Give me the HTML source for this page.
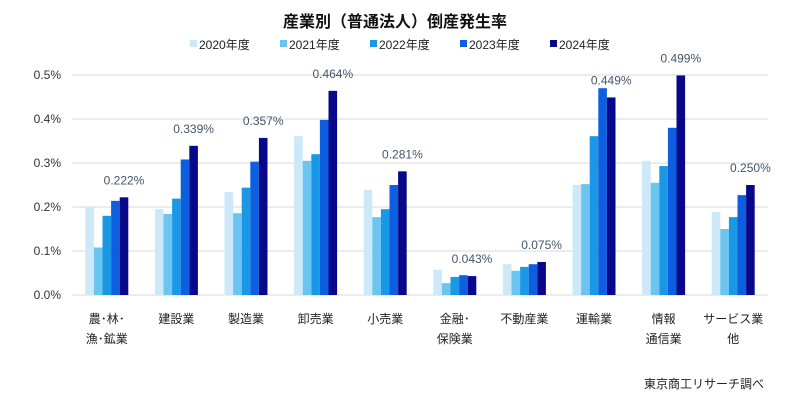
<!DOCTYPE html>
<html><head><meta charset="utf-8"><style>
body{margin:0;background:#fff;}
svg{display:block;font-family:"Liberation Sans","Noto Sans CJK JP",sans-serif;}
</style></head><body>
<svg id="c" width="788" height="403" viewBox="0 0 788 403">
<text x="395" y="27" text-anchor="middle" font-size="16" font-weight="bold" fill="#111" font-family="'Liberation Sans','Noto Sans CJK JP',sans-serif">産業別（普通法人）倒産発生率</text>
<g id="legend"></g>
<g id="grid"></g>
<g id="bars"></g>
<g id="xl"></g>
<text x="764" y="388" text-anchor="end" font-size="12" fill="#222">東京商工リサーチ調べ</text>
</svg>
<script>
const categories=[["農･林･","漁･鉱業"],["建設業"],["製造業"],["卸売業"],["小売業"],["金融･","保険業"],["不動産業"],["運輸業"],["情報","通信業"],["サービス業","他"]];
const years=["2020年度","2021年度","2022年度","2023年度","2024年度"];
const s2020=[0.200,0.195,0.234,0.361,0.239,0.057,0.070,0.250,0.305,0.189];
const s2021=[0.108,0.184,0.186,0.305,0.177,0.027,0.055,0.252,0.255,0.150];
const s2022=[0.180,0.219,0.244,0.320,0.195,0.041,0.064,0.361,0.293,0.177];
const s2023=[0.214,0.308,0.303,0.398,0.250,0.045,0.070,0.470,0.380,0.227];
const s2024=[0.222,0.339,0.357,0.464,0.281,0.043,0.075,0.449,0.499,0.250];
const labels2024=["0.222%","0.339%","0.357%","0.464%","0.281%","0.043%","0.075%","0.449%","0.499%","0.250%"];
const yTicks=[0,0.1,0.2,0.3,0.4,0.5];
const yTickLabels=["0.0%","0.1%","0.2%","0.3%","0.4%","0.5%"];
const series=[s2020,s2021,s2022,s2023,s2024];
const colors=["#cde8f8","#6cc4f0","#1a98e6","#0d5fe0","#08088a"];
const NS="http://www.w3.org/2000/svg";
const x0=72,x1=768,yb=295,yt=75,ymax=0.5;
const y=v=>yb-(v/ymax)*(yb-yt);
const band=(x1-x0)/categories.length;
const cx=i=>x0+band*(i+0.5);
const bw=8.6;
function mk(t,a,p){const e=document.createElementNS(NS,t);for(const k in a)e.setAttribute(k,a[k]);p.appendChild(e);return e;}
const grid=document.getElementById('grid');
yTicks.forEach((t,i)=>{
 const l=mk('line',{x1:x0,x2:x1,y1:y(t),y2:y(t),stroke:'#d9d9d9','stroke-width':1},grid);
 
 
 const tx=mk('text',{x:61,y:y(t)+4,'text-anchor':'end','font-size':12,fill:'#333'},grid);
 tx.textContent=yTickLabels[i];
 
 
});
const bars=document.getElementById('bars');
categories.forEach((c,i)=>{
 series.forEach((s,j)=>{
  const r=mk('rect',{x:cx(i)-2.5*bw+j*bw,y:y(s[i]),width:bw,height:yb-y(s[i]),fill:colors[j]},bars);
  
  
 });
 const t=mk('text',{x:cx(i)+2*bw,y:y(s2024[i])-13,'text-anchor':'middle','font-size':12,fill:'#44546a'},bars);
 t.textContent=labels2024[i];
 
 
});
const xl=document.getElementById('xl');
categories.forEach((c,i)=>{
 c.forEach((ln,k)=>{
  const t=mk('text',{x:cx(i),y:323+k*20,'text-anchor':'middle','font-size':12,fill:'#222'},xl);
  t.textContent=ln;
  
  
 });
});
const lg=document.getElementById('legend');
years.forEach((yr,j)=>{
 const lx=190+j*90;
 const r=mk('rect',{x:lx,y:40,width:7,height:7,fill:colors[j]},lg);
 
 
 const t=mk('text',{x:lx+9,y:49,'font-size':12,fill:'#222'},lg);
 t.textContent=yr;
 
 
});
</script>
</body></html>
